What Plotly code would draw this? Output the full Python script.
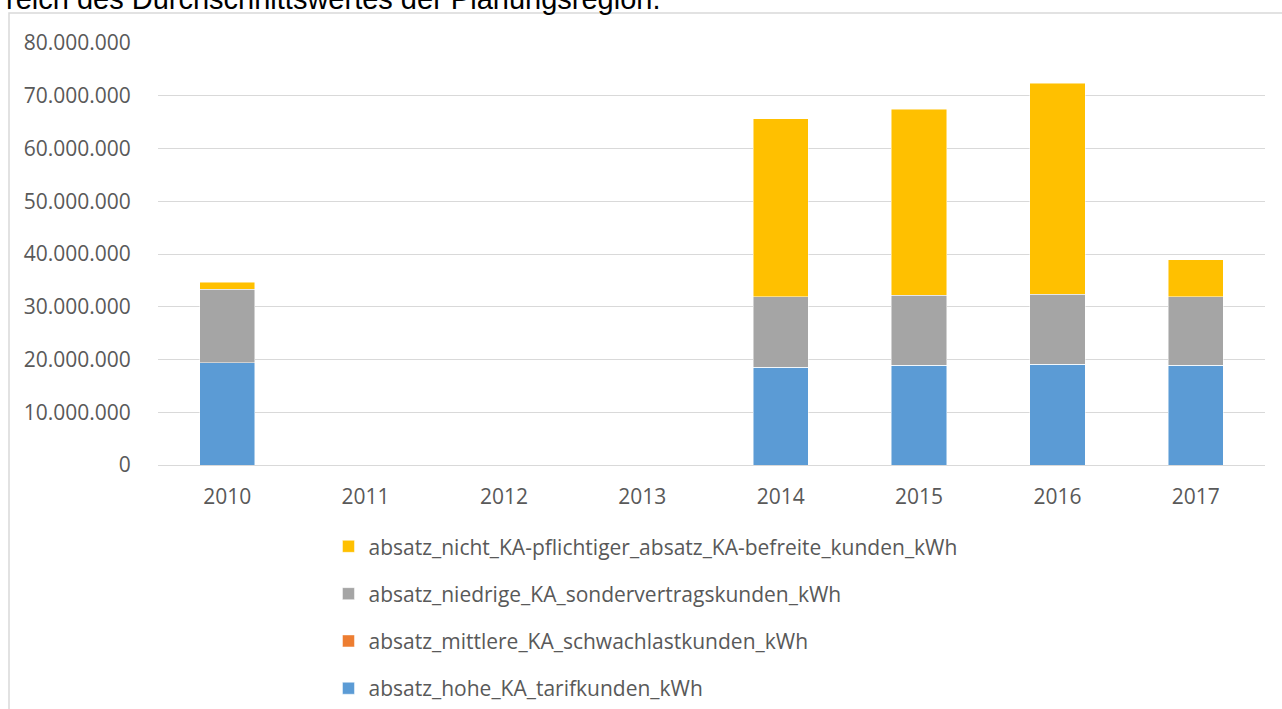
import plotly.graph_objects as go

years = ["2010", "2011", "2012", "2013", "2014", "2015", "2016", "2017"]
hohe_tarif = [19_400_000, 0, 0, 0, 18_500_000, 18_900_000, 19_100_000, 18_900_000]
mittlere_schwachlast = [0, 0, 0, 0, 0, 0, 0, 0]
niedrige_sonder = [13_900_000, 0, 0, 0, 13_400_000, 13_300_000, 13_300_000, 13_000_000]
nicht_pflichtig = [1_300_000, 0, 0, 0, 33_700_000, 35_200_000, 40_000_000, 7_000_000]

series = [
    ("absatz_hohe_KA_tarifkunden_kWh", hohe_tarif, "#5B9BD5"),
    ("absatz_mittlere_KA_schwachlastkunden_kWh", mittlere_schwachlast, "#ED7D31"),
    ("absatz_niedrige_KA_sondervertragskunden_kWh", niedrige_sonder, "#A5A5A5"),
    ("absatz_nicht_KA-pflichtiger_absatz_KA-befreite_kunden_kWh", nicht_pflichtig, "#FFC000"),
]

FONT = "Open Sans"
TXT = "#595959"

fig = go.Figure()
for i, (name, vals, color) in enumerate(series):
    fig.add_trace(
        go.Bar(
            x=years,
            y=vals,
            name=name,
            legendgroup=f"g{i}",
            legendrank=len(series) - i,  # stacked top first, as in the legend
            marker=dict(color=color, line=dict(color="rgba(255,255,255,0.6)", width=0.8)),
        )
    )

fig.update_layout(
    width=1282,
    height=709,
    barmode="stack",
    bargap=0.6,
    plot_bgcolor="white",
    paper_bgcolor="white",
    margin=dict(l=158, r=17, t=43, b=244, autoexpand=False),
    font=dict(family=FONT, size=21, color=TXT),
    showlegend=True,
    legend=dict(
        orientation="v",
        traceorder="grouped",
        tracegroupgap=17,
        x=0.154,
        xanchor="left",
        y=-0.145,
        yanchor="top",
        font=dict(family=FONT, size=21, color=TXT),
        itemclick=False,
    ),
)

fig.update_yaxes(
    range=[0, 80_000_000],
    tickvals=[i * 10_000_000 for i in range(9)],
    ticktext=["0"] + [f"{i * 10}.000.000" for i in range(1, 9)],
    showgrid=True,
    gridcolor="#D9D9D9",
    gridwidth=1.3,
    zeroline=False,
    showline=False,
    automargin=False,
    ticks="outside",
    ticklen=22,
    tickcolor="rgba(0,0,0,0)",
    tickfont=dict(family=FONT, size=21, color=TXT),
)
fig.update_xaxes(
    showline=True,
    linecolor="#D9D9D9",
    linewidth=1.3,
    showgrid=False,
    automargin=False,
    ticks="outside",
    ticklen=13,
    tickcolor="rgba(0,0,0,0)",
    tickfont=dict(family=FONT, size=21, color=TXT),
)

# chart frame (cut off at right and bottom)
fig.add_shape(
    type="rect",
    xref="paper",
    yref="paper",
    x0=(9 - 158) / 1107,
    x1=1.05,
    y0=-0.7,
    y1=(465 - 13) / 422,
    line=dict(color="#D9D9D9", width=1.5),
    fillcolor="rgba(0,0,0,0)",
    layer="below",
)

# surrounding document text, partly cut off at the top
fig.add_annotation(
    text="reich des Durchschnittswertes der Planungsregion.",
    xref="paper",
    yref="paper",
    x=(4 - 158) / 1107,
    y=(465 - 17) / 422,
    xanchor="left",
    yanchor="bottom",
    showarrow=False,
    font=dict(family="Liberation Sans", size=29, color="black"),
)

# figure sits flush with the page corner
fig.write_html(
    "out.html",
    config={"displayModeBar": False},
    post_script="document.body.style.margin='0';",
)
